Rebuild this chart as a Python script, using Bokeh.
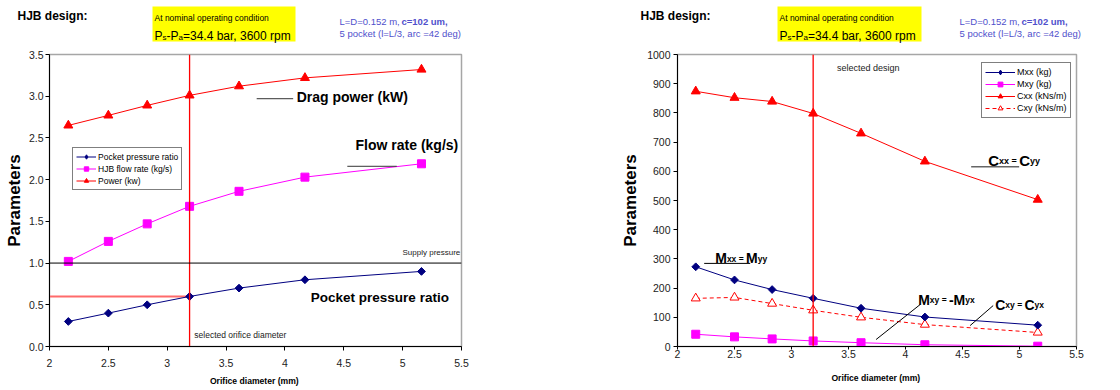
import numpy as np
from bokeh.plotting import figure
from bokeh.layouts import row, column
from bokeh.models import (Range1d, FixedTicker, CustomJSTickFormatter, Span, Label,
                          Legend, LegendItem)
from bokeh.embed import file_html
from bokeh.resources import INLINE

# ---------------- data ----------------
orifice_d = [2.16, 2.50, 2.83, 3.19, 3.61, 4.17, 5.16]
pocket_ratio = [0.30, 0.40, 0.50, 0.60, 0.70, 0.80, 0.90]
flow_rate = [1.02, 1.26, 1.47, 1.68, 1.86, 2.03, 2.19]
drag_power = [2.65, 2.77, 2.89, 3.01, 3.12, 3.22, 3.32]

mxx = [273, 228, 195, 165, 131, 101, 73]
mxy = [42, 33, 26, 19, 13, 6, 1]
cxx = [874, 852, 839, 798, 730, 634, 503]
cxy = [165, 168, 147, 124, 100, 75, 48]

selected_d = 3.19
supply_pressure = 1.0

x_ticks = [2, 2.5, 3, 3.5, 4, 4.5, 5, 5.5]
x_tick_labels = ["2", "2.5", "3", "3.5", "4", "4.5", "5", "5.5"]
y1_ticks = [0, 0.5, 1.0, 1.5, 2.0, 2.5, 3.0, 3.5]
y1_tick_labels = ["0.0", "0.5", "1.0", "1.5", "2.0", "2.5", "3.0", "3.5"]
y2_ticks = [0, 100, 200, 300, 400, 500, 600, 700, 800, 900, 1000]
y2_tick_labels = ["0", "100", "200", "300", "400", "500", "600", "700", "800", "900", "1000"]

# ---------------- style ----------------
FONT = "Liberation Sans"
NAVY = "#000080"
MAG = "#FF00FF"
RED = "#FF0000"
BLUE_TXT = "#5050CC"

# Arial / Liberation Sans advance widths (em) for the few runs that need placing
W_REG = {'P': .667, 's': .5, '-': .333, 'a': .556}
W_BOLD = {'M': .833, 'C': .722, 'x': .556, 'y': .556, '=': .584, ' ': .278, '-': .333}


def fmt(vals, labs):
    return CustomJSTickFormatter(args=dict(vals=vals, labs=labs), code="""
        for (let i = 0; i < vals.length; i++) {
            if (Math.abs(vals[i] - tick) < 1e-6) return labs[i];
        }
        return '';
    """)


def style(p, xt, xl, yt, yl):
    p.outline_line_color = "#A6A6A6"
    p.outline_line_width = 1.5
    p.xgrid.visible = False
    p.ygrid.visible = False
    for ax in (p.xaxis[0], p.yaxis[0]):
        ax.axis_line_color = "black"
        ax.major_tick_line_color = "black"
        ax.major_tick_out = 4
        ax.major_tick_in = 0
        ax.minor_tick_line_color = None
        ax.major_label_text_font = FONT
        ax.major_label_text_font_size = "10.5px"
        ax.major_label_text_color = "#222222"
        ax.axis_label_text_font = FONT
        ax.axis_label_text_font_style = "bold"
        ax.axis_label_text_color = "black"
    p.xaxis[0].ticker = FixedTicker(ticks=xt)
    p.xaxis[0].formatter = fmt(xt, xl)
    p.yaxis[0].ticker = FixedTicker(ticks=yt)
    p.yaxis[0].formatter = fmt(yt, yl)
    p.xaxis[0].axis_label = "Orifice diameter  (mm)"
    p.xaxis[0].axis_label_text_font_size = "8.6px"
    p.yaxis[0].axis_label = "Parameters"
    p.yaxis[0].axis_label_text_font_size = "17px"


def txt(p, x, y, s, size, bold=False, color="black", align="left", baseline="middle"):
    p.add_layout(Label(x=x, y=y, text=s, text_font=FONT, text_font_size=f"{size}px",
                       text_font_style="bold" if bold else "normal",
                       text_color=color, text_align=align, text_baseline=baseline))


def runs(p, x, y, parts, ppu_x, ppu_y, bold, color="black"):
    """Place text runs of different sizes one after another on a common baseline."""
    table = W_BOLD if bold else W_REG
    for k, (s, size, dy) in enumerate(parts):
        txt(p, x, y - dy / ppu_y, s, size, bold=bold, color=color, baseline="alphabetic")
        if k < len(parts) - 1:
            x += sum(table[c] for c in s) * size / ppu_x


sel_idx = orifice_d.index(selected_d)

# ================= header strip (pixel coordinates) =================
hdr = figure(width=1120, height=46, x_range=Range1d(0, 1120), y_range=Range1d(46, 0),
             x_axis_location=None, y_axis_location=None, output_backend="svg",
             toolbar_location=None, min_border=0, min_border_left=0, min_border_right=0,
             min_border_top=0, min_border_bottom=0)
hdr.outline_line_color = None
hdr.grid.visible = False
hdr.quad(left=[152, 777], right=[295, 921], top=[6, 6], bottom=[41, 41],
         fill_color="#FFFF00", line_color=None)
for x_hjb, x_box, x_blue, x_bold in ((17, 154, 339, 401), (640, 779, 959, 1021)):
    txt(hdr, x_hjb, 15, "HJB design:", 12, bold=True)
    txt(hdr, x_box, 17, "At nominal operating condition", 8.5)
    runs(hdr, x_box, 35, [("P", 12, 0), ("s", 8, 1.5), ("-P", 12, 0), ("a", 8, 1.5),
                          ("=34.4 bar, 3600 rpm", 12, 0)], 1, -1, False)
    txt(hdr, x_blue, 21, "L=D=0.152 m, ", 9.5, color=BLUE_TXT)
    txt(hdr, x_bold, 21, "c=102 um,", 9.5, bold=True, color=BLUE_TXT)
    txt(hdr, x_blue, 33, "5 pocket (l=L/3, arc =42 deg)", 9.5, color=BLUE_TXT)

# ================= left chart =================
p1 = figure(width=560, height=344, x_range=Range1d(2, 5.5), y_range=Range1d(0, 3.5),
            output_backend="svg", toolbar_location=None,
            min_border_left=49, min_border_right=99, min_border_top=8, min_border_bottom=41)
style(p1, x_ticks, x_tick_labels, y1_ticks, y1_tick_labels)
p1.yaxis[0].major_label_standoff = 2
p1.yaxis[0].axis_label_standoff = 2
p1.xaxis[0].major_label_standoff = 8
p1.xaxis[0].axis_label_standoff = 6

p1.segment(x0=[x_ticks[0]], y0=[pocket_ratio[sel_idx]], x1=[selected_d], y1=[pocket_ratio[sel_idx]],
           line_color="#FF6B6B", line_width=2)
p1.add_layout(Span(location=supply_pressure, dimension="width", line_color="black", line_width=1))

l_pl = p1.line(orifice_d, pocket_ratio, line_color=NAVY, line_width=1)
# diamond used only for the legend swatch; hidden beneath the drawn diamonds
l_pd = p1.scatter(orifice_d, pocket_ratio, marker="diamond", size=4, fill_color=NAVY, line_color=NAVY)
p1.scatter(orifice_d, pocket_ratio, marker="square", angle=np.pi / 4, size=5.5,
           fill_color=NAVY, line_color=NAVY)
l_fl = p1.line(orifice_d, flow_rate, line_color=MAG, line_width=1)
l_fs = p1.scatter(orifice_d, flow_rate, marker="square", size=8, fill_color=MAG, line_color=MAG)
l_wl = p1.line(orifice_d, drag_power, line_color=RED, line_width=1)
l_ws = p1.scatter(orifice_d, drag_power, marker="triangle", size=9, fill_color=RED, line_color=RED)

p1.segment(x0=[selected_d], y0=[y1_ticks[0]], x1=[selected_d], y1=[y1_ticks[-1]],
           line_color=RED, line_width=1.3)

leg1 = Legend(items=[LegendItem(label="Pocket pressure ratio", renderers=[l_pl, l_pd]),
                     LegendItem(label="HJB flow rate (kg/s)", renderers=[l_fl, l_fs]),
                     LegendItem(label="Power (kw)", renderers=[l_wl, l_ws])],
              location=(23, 156), glyph_width=20, glyph_height=11, label_height=11,
              label_standoff=2, padding=3, spacing=1, margin=0,
              label_text_font=FONT, label_text_font_size="8.5px", label_text_color="black",
              border_line_color="black", border_line_width=1, background_fill_alpha=1)
p1.add_layout(leg1)

# annotations
p1.segment(x0=[3.76], y0=[2.97], x1=[4.07], y1=[2.97], line_color="#333333", line_width=1)
txt(p1, 4.10, 2.99, "Drag power (kW)", 14, bold=True)
p1.segment(x0=[4.53], y0=[2.16], x1=[4.95], y1=[2.16], line_color="#333333", line_width=1)
txt(p1, 4.60, 2.41, "Flow rate (kg/s)", 14, bold=True)
txt(p1, 4.22, 0.585, "Pocket pressure ratio", 13.5, bold=True)
txt(p1, 5.49, 1.13, "Supply pressure", 8, color="#222222", align="right")
txt(p1, 3.23, 0.134, "selected orifice diameter", 8.5, color="#222222")

# ================= right chart =================
p2 = figure(width=560, height=344, x_range=Range1d(2, 5.5), y_range=Range1d(0, 1000),
            output_backend="svg", toolbar_location=None,
            min_border_left=117, min_border_right=44, min_border_top=7, min_border_bottom=44)
style(p2, x_ticks, x_tick_labels, y2_ticks, y2_tick_labels)
p2.yaxis[0].major_label_standoff = 3
p2.yaxis[0].axis_label_standoff = 4
p2.xaxis[0].major_tick_out = 3
p2.xaxis[0].major_label_standoff = 0
p2.xaxis[0].axis_label_standoff = 12

r_cxl = p2.line(orifice_d, cxx, line_color=RED, line_width=1)
r_cxs = p2.scatter(orifice_d, cxx, marker="triangle", size=9, fill_color=RED, line_color=RED)
r_cyl = p2.line(orifice_d, cxy, line_color=RED, line_width=1, line_dash="4 3")
r_cys = p2.scatter(orifice_d, cxy, marker="triangle", size=9, fill_color="white", line_color=RED)
r_myl = p2.line(orifice_d, mxy, line_color=MAG, line_width=1)
r_mys = p2.scatter(orifice_d, mxy, marker="square", size=8, fill_color=MAG, line_color=MAG)
r_mxl = p2.line(orifice_d, mxx, line_color=NAVY, line_width=1)
r_mxd = p2.scatter(orifice_d, mxx, marker="diamond", size=4, fill_color=NAVY, line_color=NAVY)
p2.scatter(orifice_d, mxx, marker="square", angle=np.pi / 4, size=5.5,
           fill_color=NAVY, line_color=NAVY)

p2.segment(x0=[selected_d], y0=[y2_ticks[0]], x1=[selected_d], y1=[y2_ticks[-1]],
           line_color=RED, line_width=1.3)

leg2 = Legend(items=[LegendItem(label="Mxx (kg)", renderers=[r_mxl, r_mxd]),
                     LegendItem(label="Mxy (kg)", renderers=[r_myl, r_mys]),
                     LegendItem(label="Cxx (kNs/m)", renderers=[r_cxl, r_cxs]),
                     LegendItem(label="Cxy (kNs/m)", renderers=[r_cyl, r_cys])],
              location=(304, 228), glyph_width=30, glyph_height=12, label_height=12,
              label_standoff=2, padding=3, spacing=0, margin=0,
              label_text_font=FONT, label_text_font_size="9px", label_text_color="black",
              border_line_color="black", border_line_width=1, background_fill_alpha=1)
p2.add_layout(leg2)

# annotations (pixel scale of this frame: 114 px per mm, 0.293 px per unit)
PX_X, PX_Y = 114.0, 0.2927
txt(p2, 3.399, 954.2, "selected design", 9, color="#222222")
p2.segment(x0=[4.576], y0=[616], x1=[4.997], y1=[616], line_color="#666666", line_width=1.5)
runs(p2, 4.725, 635.5, [("C", 15, 0), ("xx = ", 9, 0.5), ("C", 15, 0), ("yy", 9, 0.5)],
     PX_X, PX_Y, True)
p2.segment(x0=[2.234], y0=[284.6], x1=[2.638], y1=[284.6], line_color="black", line_width=1)
runs(p2, 2.331, 301.7, [("M", 14, 0), ("xx = ", 8.5, 0.5), ("M", 14, 0), ("yy", 8.5, 0.5)],
     PX_X, PX_Y, True)
p2.segment(x0=[4.128], y0=[143.5], x1=[3.742], y1=[23.9], line_color="black", line_width=1)
runs(p2, 4.111, 159.6, [("M", 14, 0), ("xy = ", 8.5, 0.5), ("-M", 14, 0), ("yx", 8.5, 0.5)],
     PX_X, PX_Y, True)
p2.segment(x0=[4.769], y0=[140.1], x1=[4.567], y1=[71.7], line_color="black", line_width=1)
runs(p2, 4.787, 142.5, [("C", 14, 0), ("xy = ", 8.5, 0.5), ("C", 14, 0), ("yx", 8.5, 0.5)],
     PX_X, PX_Y, True)

layout = column(hdr, row(p1, p2))
open("out.html", "w").write(file_html(layout, INLINE))
